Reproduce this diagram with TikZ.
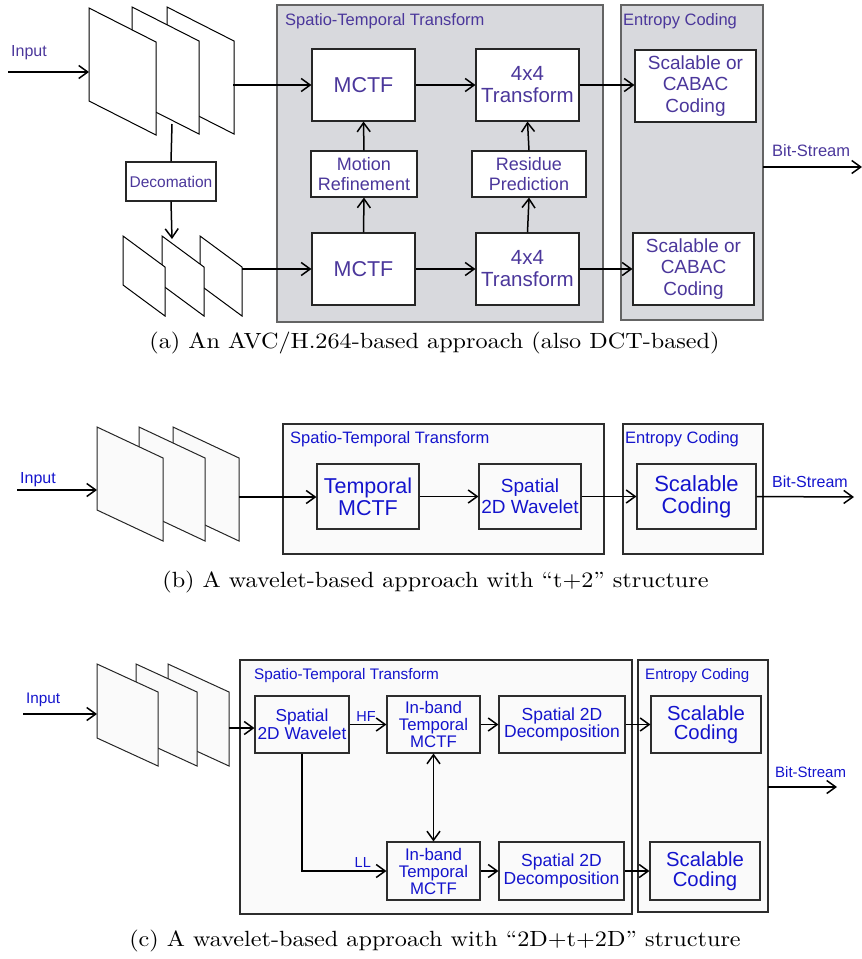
\documentclass[tikz,border=0pt]{standalone}
\usepackage{fontspec}
\usepackage{graphicx}
\newfontfamily\diag{Liberation Sans}
\usetikzlibrary{arrows.meta}

\definecolor{txtA}{RGB}{75,55,155}
\definecolor{txtB}{RGB}{20,20,205}
\definecolor{panelA}{RGB}{216,217,221}
\definecolor{panelB}{RGB}{250,250,250}
\definecolor{edgeA}{RGB}{100,100,100}
\definecolor{edgeB}{RGB}{45,45,45}

% one sheet of a frame stack: style, x, y, width, slant, height
\newcommand\sheet[6]{%
  \filldraw[#1] (#2,#3) -- ++(#4,#5) -- ++(0,#6) -- ++(-#4,-#5) -- cycle;}

\newcommand\fs[2]{\diag\fontsize{#1}{#2}\selectfont}

\tikzset{
  flow/.style={line width=1.5pt, -{Straight Barb[length=9pt,width=13pt]}},
  twoway/.style={line width=1.5pt, {Straight Barb[length=9pt,width=13pt]}-{Straight Barb[length=9pt,width=13pt]}},
  link/.style={line width=1.5pt},
  boxA/.style={draw=black!85, line width=1.1pt, fill=white, text=txtA,
    align=center, inner sep=0pt},
  boxB/.style={draw=edgeB, line width=1.1pt, fill=panelB, text=txtB,
    align=center, inner sep=0pt},
  panA/.style={draw=edgeA, fill=panelA, line width=1.2pt},
  panB/.style={draw=edgeB, fill=panelB, line width=1.2pt},
  sheetA/.style={draw=black, fill=white, line width=1pt},
  sheetB/.style={draw=black!85, fill=panelB, line width=1pt},
  tagA/.style={text=txtA, inner sep=0pt, anchor=base west},
  tagB/.style={text=txtB, inner sep=0pt, anchor=base west},
  caption/.style={inner sep=0pt, anchor=base},
}

\begin{document}
\begin{tikzpicture}[x=1pt,y=-1pt]
\useasboundingbox (0,0) rectangle (862,959);

%% ---------------- (a) AVC/H.264-based ----------------
\draw[panA] (277,5) rectangle (603,322);
\draw[panA] (621,5) rectangle (763,320);
\node[tagA, font=\fs{16.5}{18}] (stA) at (285,25) {Spatio-Temporal Transform};
\node[tagA, font=\fs{16.5}{18}] (ecA) at (623,25) {Entropy Coding};

% full-resolution frames
\sheet{sheetA}{167}{7}{67}{34}{93}
\sheet{sheetA}{132}{7}{67}{34}{93}
\sheet{sheetA}{89}{8}{67}{34}{93}
% decimated frames
\sheet{sheetA}{200}{236}{42}{31}{49}
\sheet{sheetA}{162}{236}{42}{31}{49}
\sheet{sheetA}{123}{236}{42}{31}{49}

\coordinate (inA) at (8,72);
\coordinate (fA) at (89,72);
\coordinate (fAout) at (233,85);
\coordinate (fAdown) at (172,124);
\coordinate (sAin) at (172,239);
\coordinate (sAout) at (242,269);
\coordinate (bsA) at (862,167);

\node[tagA, font=\fs{16}{18}] (inLabA) at (11,56) {Input};

\node[boxA, minimum width=90pt, minimum height=39pt, font=\fs{15.5}{17}] (decA) at (171,181.5) {Decomation};

\node[boxA, minimum width=103pt, minimum height=72pt, font=\fs{21.5}{22}] (mctfA) at (363.5,85) {MCTF};
\node[boxA, minimum width=103pt, minimum height=72pt, font=\fs{20.5}{22}] (tfA) at (527.5,85) {4x4\\Transform};
\node[boxA, minimum width=106pt, minimum height=46pt, font=\fs{18}{20}] (mrA) at (364,174) {Motion\\Refinement};
\node[boxA, minimum width=114pt, minimum height=46pt, font=\fs{18}{20}] (rpA) at (529,174) {Residue\\Prediction};
\node[boxA, minimum width=103pt, minimum height=72pt, font=\fs{21.5}{22}] (mctfB) at (363.5,269) {MCTF};
\node[boxA, minimum width=103pt, minimum height=72pt, font=\fs{20.5}{22}] (tfB) at (527.5,269) {4x4\\Transform};
\node[boxA, minimum width=121pt, minimum height=72pt, font=\fs{19}{21.5}] (scA1) at (695.5,86) {Scalable or\\CABAC\\Coding};
\node[boxA, minimum width=121pt, minimum height=72pt, font=\fs{19}{21.5}] (scA2) at (693.5,269) {Scalable or\\CABAC\\Coding};

\coordinate (ecAeast) at (763,167);
\node[tagA, font=\fs{16.5}{18}] (bsLabA) at (772,156) {Bit-Stream};

\draw[flow] (inA) -- (fA);
\draw[flow] (fAout) -- (fAout -| mctfA.west);
\draw[link] (fAdown) -- (decA.north);
\draw[flow] (decA.south) -- (sAin);
\draw[flow] (sAout) -- (sAout -| mctfB.west);
\draw[flow] (mctfA.east) -- (tfA.west);
\draw[flow] (tfA.east) -- (tfA.east -| scA1.west);
\draw[flow] (mctfB.east) -- (tfB.west);
\draw[flow] (tfB.east) -- (scA2.west);
\draw[flow] (mctfB.north) -- (mrA.south);
\draw[flow] (mrA.north) -- (mctfA.south);
\draw[flow] (tfB.north) -- (rpA.south);
\draw[flow] (rpA.north) -- (tfA.south);
\draw[flow] (ecAeast) -- (bsA);

\node[caption] (capA) at (434.5,348) {\scalebox{2.42}[2.2]{\fontsize{10}{12}\selectfont (a) An AVC/H.264-based approach (also DCT-based)}};

%% ---------------- (b) t+2D wavelet ----------------
\draw[panB] (283,424) rectangle (604,554);
\draw[panB] (623,424) rectangle (763,554);
\node[tagB, font=\fs{16.5}{18}] (stB) at (290,443) {Spatio-Temporal Transform};
\node[tagB, font=\fs{16.5}{18}] (ecB) at (625,443) {Entropy Coding};

\sheet{sheetB}{173}{427}{66}{31}{83}
\sheet{sheetB}{139}{427}{66}{31}{83}
\sheet{sheetB}{97}{427}{66}{31}{83}

\coordinate (inB) at (17,490);
\coordinate (fB) at (97,490);
\coordinate (fBout) at (239,497);
\coordinate (bsB) at (854,497);
\node[tagB, font=\fs{16}{18}] (inLabB) at (20,483) {Input};

\node[boxB, minimum width=102pt, minimum height=65pt, font=\fs{21.5}{22}] (tmB) at (368,496.5) {Temporal\\MCTF};
\node[boxB, minimum width=102pt, minimum height=65pt, font=\fs{19}{21}] (swB) at (530,496.5) {Spatial\\2D Wavelet};
\node[boxB, minimum width=119pt, minimum height=65pt, font=\fs{22}{22}] (scB) at (696.5,496.5) {Scalable\\Coding};
\node[tagB, font=\fs{16}{18}] (bsLabB) at (772,487) {Bit-Stream};

\draw[flow] (inB) -- (fB);
\draw[flow] (fBout) -- (fBout -| tmB.west);
\draw[flow] (tmB.east) -- (swB.west);
\draw[flow] (swB.east) -- (scB.west);
\draw[flow] (scB.east) -- (bsB);

\node[caption] (capB) at (435.5,587) {\scalebox{2.42}[2.2]{\fontsize{10}{12}\selectfont (b) A wavelet-based approach with ``t+2'' structure}};

%% ---------------- (c) 2D+t+2D wavelet ----------------
\draw[panB] (240,660) rectangle (632,914);
\draw[panB] (638,660) rectangle (768,912);
\node[tagB, font=\fs{15.3}{17}] (stC) at (254,679) {Spatio-Temporal Transform};
\node[tagB, font=\fs{15.1}{17}] (ecC) at (645,679) {Entropy Coding};

\sheet{sheetB}{168}{664}{61}{28}{74}
\sheet{sheetB}{136}{664}{61}{28}{74}
\sheet{sheetB}{97}{664}{61}{28}{74}

\coordinate (inC) at (23,714);
\coordinate (fC) at (97,714);
\coordinate (fCout) at (229,728);
\coordinate (ecCeast) at (768,787);
\coordinate (bsC) at (837,787);
\node[tagB, font=\fs{15.3}{17}] (inLabC) at (26,703) {Input};

\node[boxB, minimum width=94pt, minimum height=57pt, font=\fs{17.3}{18.5}] (swC) at (302,724.5) {Spatial\\2D Wavelet};
\node[boxB, minimum width=93pt, minimum height=57pt, font=\fs{16.8}{17}] (ibC1) at (433.5,724.5) {In-band\\Temporal\\MCTF};
\node[boxB, minimum width=93pt, minimum height=58pt, font=\fs{16.8}{17}] (ibC2) at (433.5,871) {In-band\\Temporal\\MCTF};
\node[boxB, minimum width=126pt, minimum height=57pt, font=\fs{17.5}{17.5}] (sdC1) at (562,724.5) {Spatial 2D\\Decomposition};
\node[boxB, minimum width=125pt, minimum height=58pt, font=\fs{17.5}{17.5}] (sdC2) at (561.5,871) {Spatial 2D\\Decomposition};
\node[boxB, minimum width=110pt, minimum height=57pt, font=\fs{20.3}{19.5}] (scC1) at (706,724.5) {Scalable\\Coding};
\node[boxB, minimum width=110pt, minimum height=58pt, font=\fs{20.3}{19.5}] (scC2) at (705,871) {Scalable\\Coding};
\node[tagB, font=\fs{15}{17}] (bsLabC) at (775,777) {Bit-Stream};

\draw[flow] (inC) -- (fC);
\draw[flow] (fCout) -- (fCout -| swC.west);
\draw[flow] (swC.east) -- node[pos=0.45, above=-1pt, text=txtB, font=\fs{14.5}{16}] (hf) {HF} (ibC1.west);
\draw[flow] (swC.south) |- node[pos=0.86, above=-1pt, text=txtB, font=\fs{14.5}{16}] (ll) {LL} (ibC2.west);
\draw[twoway] (ibC1.south) -- (ibC2.north);
\draw[flow] (ibC1.east) -- (sdC1.west);
\draw[flow] (ibC2.east) -- (sdC2.west);
\draw[flow] (sdC1.east) -- (scC1.west);
\draw[flow] (sdC2.east) -- (scC2.west);
\draw[flow] (ecCeast) -- (bsC);

\node[caption] (capC) at (435,946) {\scalebox{2.42}[2.2]{\fontsize{10}{12}\selectfont (c) A wavelet-based approach with ``2D+t+2D'' structure}};

\end{tikzpicture}
\end{document}
